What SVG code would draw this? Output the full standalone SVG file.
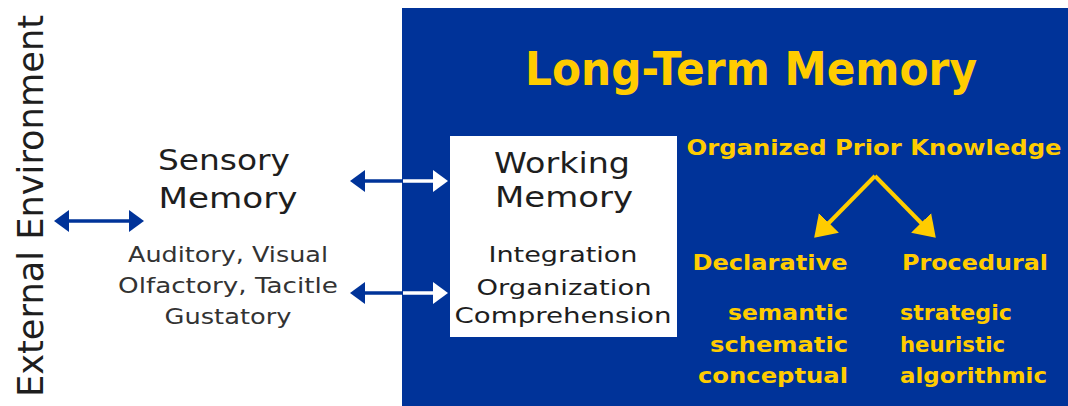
<svg xmlns="http://www.w3.org/2000/svg" width="1068" height="406" viewBox="0 0 1068 406">
<style>
text{font-family:"DejaVu Sans","Liberation Sans",sans-serif}
.h{font-size:29px;fill:#1e1e1e;text-anchor:middle}
.s{font-size:22px;fill:#333;text-anchor:middle}
.y{fill:#ffcc00;font-weight:bold;font-size:22px}
.c{text-anchor:middle}
.e{text-anchor:end}
.bl{stroke:#003399;stroke-width:3.5;fill:none}
.wh{stroke:#ffffff;stroke-width:3.5;fill:none}
.yl{stroke:#ffcc00;stroke-width:4;fill:none}
</style>
<defs>
<marker id="mb" markerUnits="userSpaceOnUse" markerWidth="16" markerHeight="22" refX="12" refY="11" orient="auto-start-reverse"><path d="M0,0 L15,11 L0,22 Z" fill="#003399"/></marker>
<marker id="mw" markerUnits="userSpaceOnUse" markerWidth="16" markerHeight="22" refX="12" refY="11" orient="auto"><path d="M0,0 L15,11 L0,22 Z" fill="#ffffff"/></marker>
<marker id="my" markerUnits="userSpaceOnUse" markerWidth="22" markerHeight="28" refX="17" refY="14" orient="auto"><path d="M0,0 L21,14 L0,28 Z" fill="#ffcc00"/></marker>
</defs>
<g id="ltm">
<rect x="402" y="8" width="666" height="398" fill="#003399"/>
<text class="y c" x="751" y="85" style="font-size:46px" textLength="452" lengthAdjust="spacingAndGlyphs">Long-Term Memory</text>
</g>
<g id="env">
<text transform="translate(43,206) rotate(-90)" class="c" style="font-size:36px;fill:#1e1e1e" textLength="382" lengthAdjust="spacingAndGlyphs">External Environment</text>
</g>
<g id="sensory">
<text class="h" x="224" y="170" textLength="132" lengthAdjust="spacingAndGlyphs">Sensory</text>
<text class="h" x="228" y="208" textLength="139" lengthAdjust="spacingAndGlyphs">Memory</text>
<text class="s" x="228" y="262" textLength="200" lengthAdjust="spacingAndGlyphs">Auditory, Visual</text>
<text class="s" x="228" y="293" textLength="220" lengthAdjust="spacingAndGlyphs">Olfactory, Tacitle</text>
<text class="s" x="228" y="324" textLength="127" lengthAdjust="spacingAndGlyphs">Gustatory</text>
</g>
<g id="working">
<rect x="450" y="136" width="227" height="201" fill="#ffffff"/>
<text class="h" x="562" y="173" textLength="136" lengthAdjust="spacingAndGlyphs">Working</text>
<text class="h" x="564" y="207" textLength="138" lengthAdjust="spacingAndGlyphs">Memory</text>
<text class="s" x="563" y="262" style="fill:#1e1e1e" textLength="149" lengthAdjust="spacingAndGlyphs">Integration</text>
<text class="s" x="564" y="295" style="fill:#1e1e1e" textLength="175" lengthAdjust="spacingAndGlyphs">Organization</text>
<text class="s" x="563" y="323" style="fill:#1e1e1e" textLength="217" lengthAdjust="spacingAndGlyphs">Comprehension</text>
</g>
<g id="knowledge">
<text class="y c" x="874" y="155" textLength="375" lengthAdjust="spacingAndGlyphs">Organized Prior Knowledge</text>
</g>
<g id="declarative">
<text class="y c" x="770" y="270" textLength="155" lengthAdjust="spacingAndGlyphs">Declarative</text>
<text class="y e" x="848" y="320" textLength="120" lengthAdjust="spacingAndGlyphs">semantic</text>
<text class="y e" x="848" y="352" textLength="138" lengthAdjust="spacingAndGlyphs">schematic</text>
<text class="y e" x="848" y="383" textLength="150" lengthAdjust="spacingAndGlyphs">conceptual</text>
</g>
<g id="procedural">
<text class="y c" x="975" y="270" textLength="146" lengthAdjust="spacingAndGlyphs">Procedural</text>
<text class="y" x="900" y="320" textLength="112" lengthAdjust="spacingAndGlyphs">strategic</text>
<text class="y" x="900" y="352" textLength="105" lengthAdjust="spacingAndGlyphs">heuristic</text>
<text class="y" x="900" y="383" textLength="147" lengthAdjust="spacingAndGlyphs">algorithmic</text>
</g>
<g id="connectors">
<line class="bl" x1="57" y1="221" x2="141" y2="221" marker-start="url(#mb)" marker-end="url(#mb)"/>
<line class="bl" x1="353" y1="181" x2="404" y2="181" marker-start="url(#mb)"/>
<line class="wh" x1="403" y1="181" x2="445" y2="181" marker-end="url(#mw)"/>
<line class="bl" x1="353" y1="293" x2="404" y2="293" marker-start="url(#mb)"/>
<line class="wh" x1="403" y1="293" x2="445" y2="293" marker-end="url(#mw)"/>
<line class="yl" x1="875" y1="176" x2="817" y2="235" marker-end="url(#my)"/>
<line class="yl" x1="875" y1="176" x2="933" y2="235" marker-end="url(#my)"/>
</g>
</svg>
